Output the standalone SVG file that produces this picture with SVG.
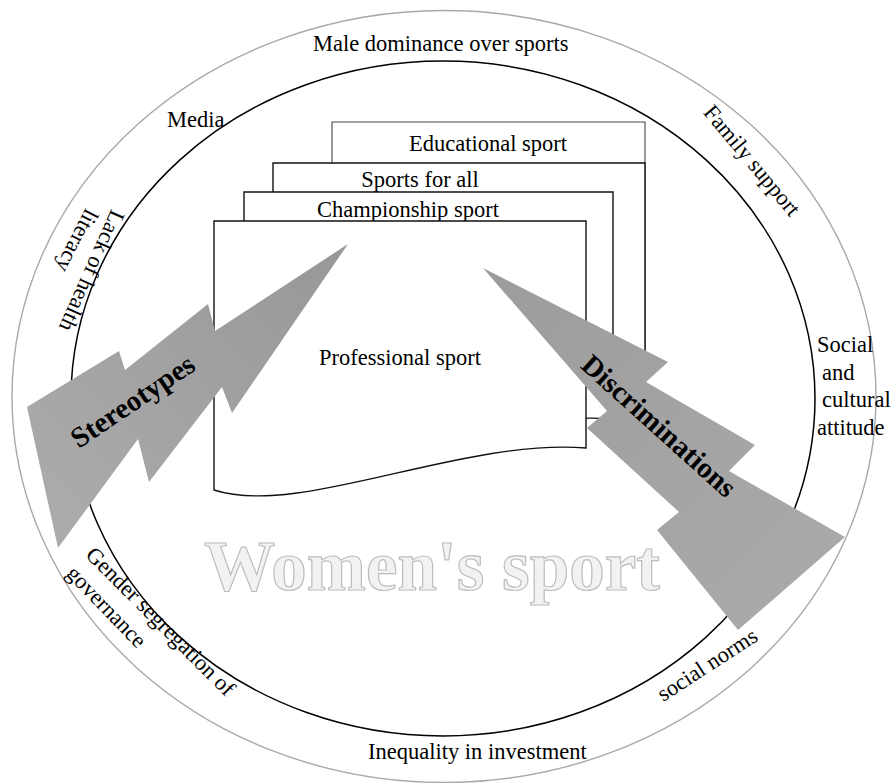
<svg xmlns="http://www.w3.org/2000/svg" width="893" height="783" viewBox="0 0 893 783">
<defs>
<style>
text{font-family:"Liberation Serif","Times New Roman",serif;fill:#000}
.lbl{font-size:22.5px}
.mid{text-anchor:middle}
.doc{fill:#fff;stroke:#111;stroke-width:1.4}
.bolttxt{font-size:29px;font-weight:bold;text-anchor:middle}
</style>
<linearGradient id="gS" x1="0" y1="1" x2="1" y2="0">
<stop offset="0" stop-color="#adadad"/>
<stop offset="1" stop-color="#979797"/>
</linearGradient>
<linearGradient id="gD" x1="0" y1="0" x2="1" y2="1">
<stop offset="0" stop-color="#9c9c9c"/>
<stop offset="1" stop-color="#ababab"/>
</linearGradient>
</defs>
<rect width="893" height="783" fill="#fff"/>
<g id="rings">
<ellipse cx="444" cy="396.5" rx="432" ry="386" fill="none" stroke="#a8a8a8" stroke-width="1.4"/>
<ellipse cx="443" cy="398.5" rx="372" ry="337.5" fill="none" stroke="#000" stroke-width="1.5"/>
</g>
<g id="ring-labels">
<text id="male" class="lbl" x="313" y="51">Male dominance over sports</text>
<text id="media" class="lbl" x="167" y="127">Media</text>
<text id="family" class="lbl mid" x="746.4" y="165.3" transform="rotate(50 746.4 165.3)">Family support</text>
<g id="lack">
<text class="lbl mid" x="85.1" y="267.9" transform="rotate(114 85.1 267.9)">Lack of health</text>
<text class="lbl mid" x="70.4" y="237.6" transform="rotate(117 70.4 237.6)">literacy</text>
</g>
<g id="social">
<text class="lbl" x="817" y="352">Social</text>
<text class="lbl" x="822" y="380">and</text>
<text class="lbl" x="822" y="407">cultural</text>
<text class="lbl" x="817" y="435">attitude</text>
</g>
<text id="norms" class="lbl mid" x="711.3" y="670.9" transform="rotate(-33 711.3 670.9)">social norms</text>
<text id="inequality" class="lbl" x="368" y="759">Inequality in investment</text>
<g id="gender">
<text class="lbl mid" x="155.3" y="626.7" transform="rotate(45 155.3 626.7)">Gender segregation of</text>
<text class="lbl mid" x="101.2" y="611.8" transform="rotate(46 101.2 611.8)">governance</text>
</g>
</g>
<g id="doc-educational">
<path class="doc" d="M332,122 H645 V350 C520,340 420,400 332,380 Z" style="stroke:#444;stroke-width:1.1"/>
<text class="lbl mid" x="488" y="151">Educational sport</text>
</g>
<g id="doc-sportsforall">
<path class="doc" d="M273,163 H645 V390 C519,380 359,460 273,432 Z"/>
<text class="lbl mid" x="420" y="187">Sports for all</text>
</g>
<g id="doc-championship">
<path class="doc" d="M244,192 H613 V419 C487,409 330,489 244,461 Z"/>
<text class="lbl mid" x="408" y="217">Championship sport</text>
</g>
<g id="doc-professional">
<path class="doc" d="M214,221 H586 V448 C460,438 300,518 214,490 Z"/>
<text class="lbl mid" x="400" y="365">Professional sport</text>
</g>
<g id="title">
<text x="432" y="590" text-anchor="middle" font-size="71" font-weight="bold" fill="#f2f2f2" stroke="#bdbdbd" stroke-width="1.2" style="fill:#f2f2f2">Women's sport</text>
</g>
<g id="connectors">
<g id="stereotypes">
<polygon points="348,244 215,331 208,304 125,370 119,351 27,407 58,548 138,439 149,482 222,387 232,413" fill="url(#gS)"/>
<text class="bolttxt" x="138" y="409" transform="rotate(-34 138 409)">Stereotypes</text>
</g>
<g id="discriminations">
<polygon points="483,268 668,362 646,382 755,445 729,471 845,537 738,630 657,530 679,512 587,428 607,411" fill="url(#gD)"/>
<text class="bolttxt" x="652.6" y="433" transform="rotate(42 652.6 433)">Discriminations</text>
</g>
</g>
</svg>
